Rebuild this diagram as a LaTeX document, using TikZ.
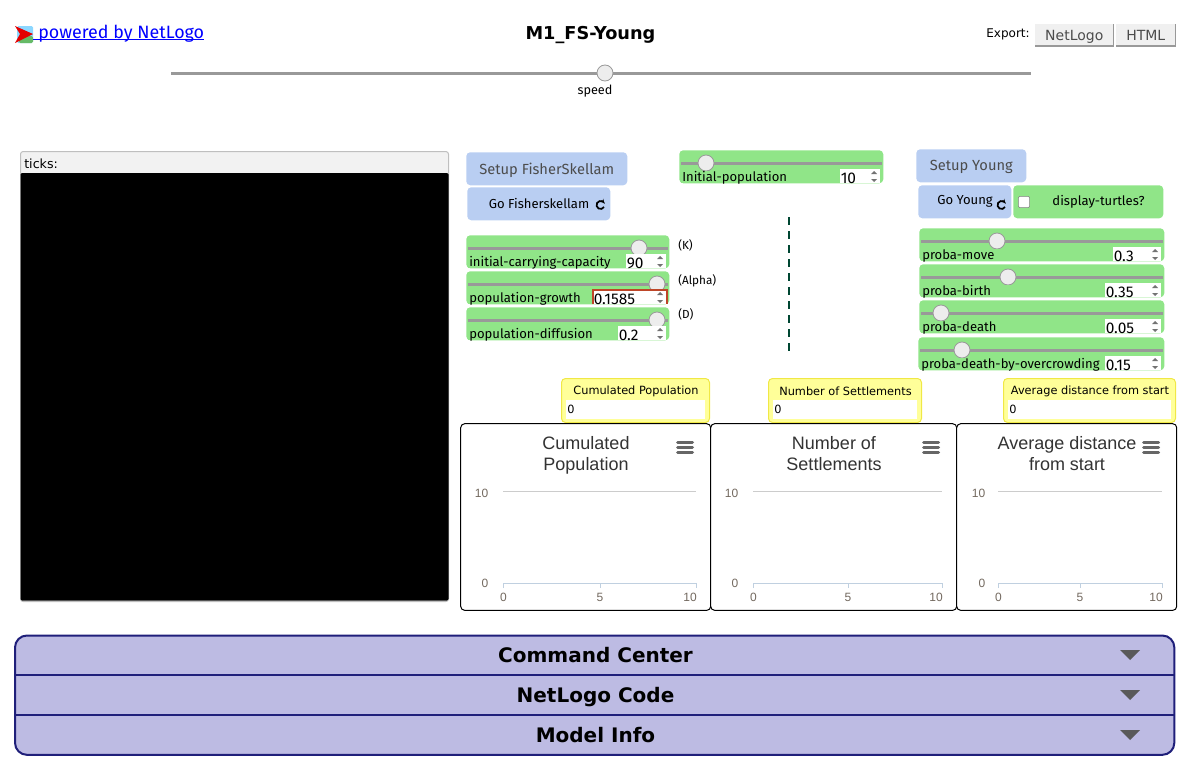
\documentclass[tikz,border=0pt]{standalone}
\usepackage{fontspec}
\usepackage{xcolor}
\setmainfont{Fira Sans}
\newfontfamily\titlefont{DejaVu Sans}
\newfontfamily\chartfont{Liberation Sans}
\usetikzlibrary{positioning, calc, arrows.meta}
\definecolor{NLBlue}{RGB}{185,206,242}
\definecolor{NLGreen}{RGB}{144,229,136}
\definecolor{NLGray}{RGB}{153,153,153}
\definecolor{NLYellow}{RGB}{255,255,153}
\definecolor{NLBorder}{RGB}{240,232,70}
\definecolor{NLTab}{RGB}{189,187,227}
\definecolor{NLNavy}{RGB}{31,31,122}
\definecolor{NLTick}{RGB}{115,105,95}
\definecolor{NLAxis}{RGB}{192,208,224}
\definecolor{NLFocus}{RGB}{190,70,40}
\definecolor{NLDash}{RGB}{0,70,50}
\tikzset{
    px/.style={x=0.75pt, y=-0.75pt},
    btnbox/.style={
        draw=none, fill=NLBlue, rounded corners=3pt, inner sep=0pt, text depth=0pt, font=\fontsize{11}{12}\selectfont, text=black!70
    },
    gobox/.style={
        btnbox, font=\fontsize{9.8}{12}\selectfont, text=black
    },
    greenbox/.style={
        fill=NLGreen, rounded corners=3pt, inner sep=0pt
    },
    track/.style={
        draw=NLGray, line width=2.25pt
    },
    knob/.style={
        circle, draw=black!40, fill=black!7, line width=0.6pt, minimum size=12pt, inner sep=0pt
    },
    sliderlabel/.style={
        anchor=base west, inner sep=0pt, font=\fontsize{9.8}{11}\selectfont
    },
    valuetext/.style={
        anchor=base west, inner sep=0pt, font=\fontsize{11.6}{12}\selectfont
    },
    smallnote/.style={
        anchor=west, inner sep=0pt, font=\fontsize{8.8}{10}\selectfont
    },
    exportbtn/.style={
        fill=black!6, anchor=north west, minimum height=16pt, inner sep=0pt, text depth=0pt, text=black!70, font=\titlefont\fontsize{10.5}{12}\selectfont
    },
    monitorbox/.style={
        draw=NLBorder, fill=NLYellow, line width=0.75pt, rounded corners=3pt, inner sep=0pt
    },
    plotbox/.style={
        draw=black, line width=0.75pt, rounded corners=3pt, fill=white, inner sep=0pt
    },
    plottitle/.style={
        font=\chartfont\fontsize{13.5}{15.75}\selectfont, align=center, text=black!80, inner sep=0pt
    },
    ticklabel/.style={
        font=\chartfont\fontsize{9}{10}\selectfont, text=NLTick, inner sep=0pt
    },
    tablabel/.style={
        font=\titlefont\bfseries\fontsize{15}{18}\selectfont, inner sep=0pt, anchor=base
    },
    tabarrow/.style={
        fill=black!65, draw=none
    }
}
% Thanh truot: name, left, top, right, track y, knob x, label, value, left of value box
\newcommand{\nlslider}[9]{
    \node[greenbox, minimum width={(#4-#2)*0.75pt}, minimum height=24.75pt, anchor=north west] (#1) at (#2,#3) {};
    \draw[track] ($(#1.north west)+(2,13)$) -- ($(#1.north east)+(-2,13)$);
    \node[knob] (#1knob) at (#6,#5) {};
    \fill[NLGreen] (#2+2,#5+8) rectangle (#9,#3+33);
    \node[sliderlabel] (#1label) at (#2+3,#3+31) {#7};
    \fill[white] (#9,#3+19) rectangle (#4-3,#3+33);
    \node[valuetext] (#1value) at (#9+0.5,#3+33) {#8};
    \fill[black!55] (#4-12,#3+24) -- (#4-9,#3+21) -- (#4-6,#3+24) -- cycle;
    \fill[black!55] (#4-12,#3+29) -- (#4-9,#3+32) -- (#4-6,#3+29) -- cycle;
}
\begin{document}
\begin{tikzpicture}[px]
    \useasboundingbox (0,0) rectangle (1183,760);

    % --- LOGO VA TIEU DE ---
    \fill[blue!35!cyan!45, rounded corners=1pt] (17,26) rectangle (33,43);
    \fill[green!55!black!60, rounded corners=1pt] (19,36) rectangle (33,43);
    \fill[red!90!black] (15,26) -- (33,34) -- (15,43) -- (20,34) -- cycle;
    \node[anchor=base west, inner sep=0pt, text=blue, font=\fontsize{13.4}{15}\selectfont] (link) at (38,38) {powered by NetLogo};
    \draw[blue, line width=0.75pt] (33,39.5) -- (204,39.5);
    \node[font=\titlefont\bfseries\fontsize{13.3}{16}\selectfont, inner sep=0pt] (title) at (590.5,35.5) {M1\_FS-Young};

    % --- EXPORT ---
    \node[anchor=east, inner sep=0pt, font=\titlefont\fontsize{9}{11}\selectfont] (export) at (1030,34) {Export:};
    \node[exportbtn, minimum width=58.5pt] (btnNetLogo) at (1035,24) {NetLogo};
    \node[exportbtn, minimum width=44.25pt] (btnHtml) at (1116,24) {HTML};
    \draw[NLGray, line width=1.2pt] (btnNetLogo.south west) -- (btnNetLogo.south east) -- (btnNetLogo.north east);
    \draw[NLGray, line width=1.2pt] (btnHtml.south west) -- (btnHtml.south east) -- (btnHtml.north east);

    % --- THANH TOC DO ---
    \coordinate (speedL) at (171,73);
    \coordinate (speedR) at (1031,73);
    \draw[track] (speedL) -- (speedR);
    \node[knob] (speedknob) at (605,73) {};
    \node[font=\fontsize{9.5}{11}\selectfont, inner sep=0pt] (speed) at (595,91.5) {speed};

    % --- VIEW ---
    \node[draw=black!25, fill=black!5, rounded corners=2pt, line width=0.75pt, anchor=north west, minimum width=321pt, minimum height=337.5pt, inner sep=0pt] (view) at (20,151) {};
    \fill[black, rounded corners=1pt] (20.5,173) rectangle (448.5,600.5);
    \node[anchor=base west, inner sep=0pt, font=\titlefont\fontsize{9.5}{11}\selectfont] (ticks) at (24,168) {ticks:};

    % --- NUT BEN TRAI ---
    \node[btnbox, minimum width=120.75pt, minimum height=24.75pt, anchor=north west] (setupFS) at (466,152) {Setup FisherSkellam};
    \node[gobox, minimum width=107.25pt, minimum height=24.75pt, anchor=north west] (goFS) at (467,187) {};
    \node[font=\fontsize{9.8}{12}\selectfont, inner sep=0pt] (goFStext) at (539,203.5) {Go Fisherskellam};
    \draw[-{Stealth[length=3pt]}, line width=1.3pt] (604,207) arc[start angle=30, end angle=330, radius=4];

    % --- CAC THANH TRUOT BEN TRAI ---
    \nlslider{capacity}{466}{235}{669}{248}{639}{initial-carrying-capacity}{90}{626}
    \nlslider{growth}{466}{271}{669}{284}{657}{population-growth}{0.1585}{593}
    \draw[NLFocus, line width=0.9pt] (593,304) |- (667,290) -- (667,304);
    \nlslider{diffusion}{466}{307}{669}{320}{657}{population-diffusion}{0.2}{618}
    \node[smallnote] (noteK) at (678,245) {(K)};
    \node[smallnote] (noteAlpha) at (678,281) {(Alpha)};
    \node[smallnote] (noteD) at (678,314) {(D)};

    % --- THANH TRUOT GIUA ---
    \nlslider{initpop}{679}{150}{883}{163}{706}{Initial-population}{10}{840}

    % --- DUONG PHAN CACH ---
    \coordinate (sepTop) at (789,217);
    \coordinate (sepBot) at (789,351);
    \draw[NLDash, line width=0.9pt, dash pattern=on 6pt off 4.5pt] (sepTop) -- (sepBot);

    % --- NUT BEN PHAI ---
    \node[btnbox, minimum width=82.5pt, minimum height=24.75pt, anchor=north west] (setupY) at (916,149) {Setup Young};
    \node[gobox, minimum width=69.75pt, minimum height=24.75pt, anchor=north west] (goY) at (918,185) {};
    \node[font=\fontsize{9.8}{12}\selectfont, inner sep=0pt] (goYtext) at (965,201.5) {Go Young};
    \draw[-{Stealth[length=3pt]}, line width=1.3pt] (1005,207) arc[start angle=30, end angle=330, radius=4];
    \node[greenbox, minimum width=112.5pt, minimum height=24.75pt, anchor=north west] (turtles) at (1013,185) {};
    \node[draw=black!50, fill=white, rounded corners=1pt, minimum size=8.5pt, inner sep=0pt] (check) at (1024,202) {};
    \node[font=\fontsize{9.8}{11}\selectfont, inner sep=0pt] (turtlestext) at (1098.5,201.5) {display-turtles?};

    % --- CAC THANH TRUOT BEN PHAI ---
    \nlslider{move}{919}{228}{1164}{241}{997}{proba-move}{0.3}{1113}
    \nlslider{birth}{919}{264}{1164}{277}{1008}{proba-birth}{0.35}{1105}
    \nlslider{death}{919}{300}{1164}{313}{941}{proba-death}{0.05}{1105}
    \nlslider{crowd}{918}{337}{1164}{350}{962}{proba-death-by-overcrowding}{0.15}{1105}

    % --- MONITOR ---
    \foreach \nm/\l/\r/\lab in {monA/561/710/Cumulated Population, monB/768/922/Number of Settlements, monC/1003/1176/Average distance from start}{
        \node[monitorbox, minimum width={(\r-\l)*0.75pt-0.75pt}, minimum height=33pt, anchor=north west] (\nm) at (\l,378) {};
        \node[inner sep=0pt, font=\titlefont\fontsize{8.5}{10}\selectfont] (\nm-title) at ({(\l+\r)/2+0.5},391) {\lab};
        \fill[white] (\l+5,400) rectangle (\r-5,419);
        \node[anchor=west, inner sep=0pt, font=\titlefont\fontsize{8.5}{10}\selectfont] (\nm-value) at (\l+6,409) {0};
    }

    % --- BIEU DO ---
    \foreach \nm/\l/\r/\tx/\ta/\tb/\gl/\gm/\gr/\mx/\yx in {
        plotA/460/711/586/Cumulated/Population/503/600/696/685/488.5,
        plotB/710/957/834/Number of/Settlements/753/848/942/931/738.5,
        plotC/956/1177/1067/Average distance/from start/998/1080/1162/1151/985.5}{
        \node[plotbox, minimum width={(\r-\l)*0.75pt-0.75pt}, minimum height=140pt, anchor=north west] (\nm) at (\l+0.2,423.2) {};
        \node[plottitle] (\nm-title) at (\tx,455) {\ta\\\tb\vphantom{g}};
        \foreach \my in {442,447,452}
            \draw[black!60, line width=2.25pt, line cap=round] (\mx-7.5,\my) -- (\mx+7.5,\my);
        \draw[black!20, line width=0.75pt] (\gl,491) -- (\gr,491);
        \draw[NLAxis, line width=0.75pt] (\gl,588) -- (\gl,583) -- (\gr,583) -- (\gr,588);
        \draw[NLAxis, line width=0.75pt] (\gm,583) -- (\gm,588);
        \node[ticklabel, anchor=east] (\nm-y10) at (\yx,493.5) {10};
        \node[ticklabel, anchor=east] (\nm-y0) at (\yx,583.5) {0};
        \node[ticklabel] (\nm-x0) at (\gl+0.5,597) {0};
        \node[ticklabel] (\nm-x5) at (\gm,597) {5};
        \node[ticklabel] (\nm-x10) at (\gr-6,597) {10};
    }

    % --- CAC TAB ---
    \node[draw=NLNavy, fill=NLTab, line width=1.5pt, rounded corners=9pt, minimum width=869.5pt, minimum height=89.5pt, anchor=north west, inner sep=0pt] (tabs) at (14,634.5) {};
    \draw[NLNavy, line width=1.5pt] (tabs.west |- 0,675) -- (tabs.east |- 0,675);
    \draw[NLNavy, line width=1.5pt] (tabs.west |- 0,715) -- (tabs.east |- 0,715);
    \foreach \nm/\yy/\lab in {tabCmd/655/Command Center, tabCode/695/NetLogo Code, tabInfo/735/Model Info}{
        \node[tablabel] (\nm) at (595.5,\yy+7.3) {\lab};
        \fill[tabarrow] (1120,\yy-5) -- (1140,\yy-5) -- (1130,\yy+5) -- cycle;
    }
\end{tikzpicture}
\end{document}
